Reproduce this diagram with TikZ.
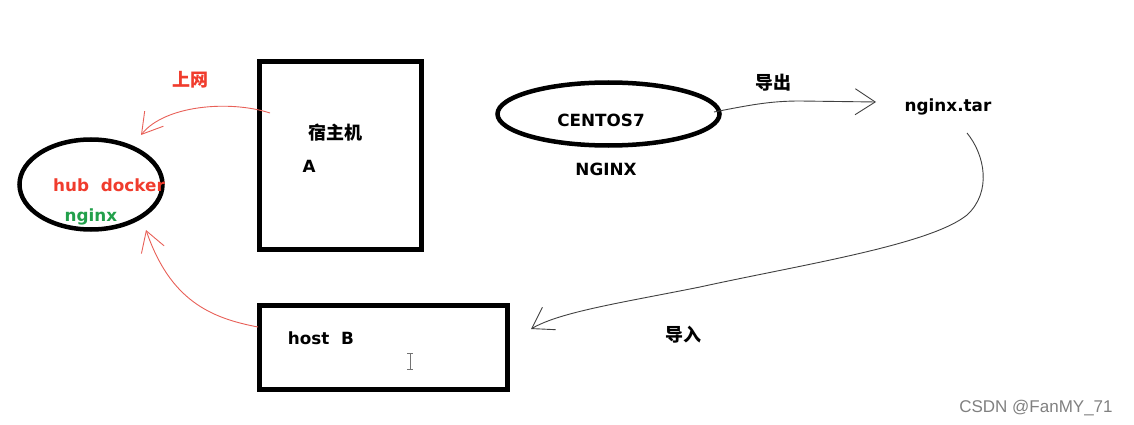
\documentclass[tikz,border=0pt]{standalone}
\usepackage{fontspec}
\setmainfont{DejaVu Sans}
\newfontfamily\cjk{Noto Sans CJK SC}
\newfontfamily\wm{Liberation Sans}
\usetikzlibrary{shapes.geometric,arrows.meta}
\definecolor{hubred}{HTML}{F03C2D}
\definecolor{hubgreen}{HTML}{22A04B}
\definecolor{pen}{HTML}{E86058}
\definecolor{darkpen}{HTML}{404040}
\tikzset{
  thick box/.style={draw=black, line width=4.5pt, inner sep=0pt},
  lbl/.style={font=\fontsize{16.8}{19}\selectfont\bfseries, inner sep=0pt},
  clbl/.style={font=\cjk\fontsize{18}{20}\selectfont\bfseries, inner sep=0pt},
  redarrow/.style={draw=pen, line width=0.9pt, -{Straight Barb[length=20pt,width=24pt]}},
  grayarrow/.style={draw=darkpen, line width=0.9pt, -{Straight Barb[length=20pt,width=26pt]}}
}
\begin{document}
\begin{tikzpicture}[x=1pt,y=-1pt]
\useasboundingbox (0,0) rectangle (1134,425);
% shapes
\node[thick box, ellipse, minimum width=143pt, minimum height=90pt] (hub) at (91,184.5) {};
\node[thick box, rectangle, minimum width=162pt, minimum height=188pt] (hostA) at (340.5,155.5) {};
\node[thick box, ellipse, minimum width=222pt, minimum height=63pt] (centos) at (608.5,114) {};
\node[thick box, rectangle, minimum width=248pt, minimum height=84pt] (hostB) at (383.5,347.5) {};
% texts
\node[lbl, text=hubred] (hubtxt) at (109,185) {hub\ \ docker};
\node[lbl, text=hubgreen] (nginxtxt) at (91,217) {nginx};
\node[clbl, text=hubred] (upnet) at (190,80) {上网};
\node[clbl] (sz) at (335,133) {宿主机};
\node[lbl] (Atxt) at (309,166) {A};
\node[lbl] (centostxt) at (601,120) {CENTOS7};
\node[lbl] (nginxcap) at (606,169) {NGINX};
\node[clbl] (export) at (773,83) {导出};
\node[lbl] (tar) at (948,107) {nginx.tar};
\node[lbl] (hostBtxt) at (321,338) {host\ \ B};
\node[clbl] (import) at (683,335) {导入};
\node[font=\wm\fontsize{17}{20}\selectfont, text=black!50, inner sep=0pt] (csdn) at (1036,408) {CSDN @FanMY\_71};
% named ends
\coordinate (a1s) at (270,113);
\coordinate (a1e) at (141,135);
\coordinate (a2s) at (258,327);
\coordinate (a2e) at (146,230);
\coordinate (a3s) at (714,112);
\coordinate (a3e) at (876,102);
\coordinate (a4s) at (967,133);
\coordinate (a4e) at (531,329);
% connectors
\draw[redarrow] (a1s) .. controls (230,100) and (165,105) .. (a1e);
\draw[redarrow] (a2s) .. controls (210,318) and (170,300) .. (a2e);
\draw[grayarrow] (a3s) .. controls (750,105) and (770,101) .. (800,101) -- (a3e);
\draw[grayarrow] (a4s) .. controls (985,155) and (992,192) .. (967,215)
  .. controls (930,245) and (800,265) .. (700,287)
  .. controls (620,303) and (560,312) .. (a4e);
% text cursor
\draw[black!55, line width=0.8pt] (410,353) -- (410,369) (407,353) -- (413,353) (407,369) -- (413,369);
\end{tikzpicture}
\end{document}
